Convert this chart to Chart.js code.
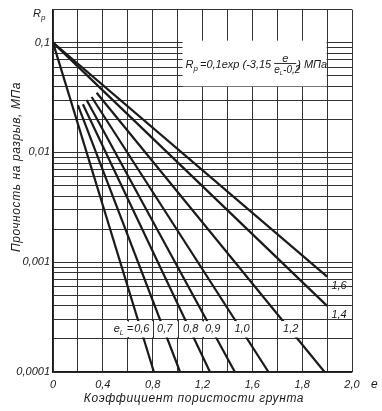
<!DOCTYPE html>
<html><head><meta charset="utf-8">
<script src="https://cdn.jsdelivr.net/npm/chart.js@4/dist/chart.umd.min.js"></script>
<style>html,body{margin:0;padding:0;background:#fff}</style>
</head><body>
<canvas id="c" width="382" height="411"></canvas>
<script>
// ---- data ----
const seriesNames = ['0,6', '0,7', '0,8', '0,9', '1,0', '1,2', '1,4', '1,6'];
const startE = [0.00, 0.20, 0.24, 0.27, 0.31, 0.35, 0.00, 0.00];
const startR = [0.1, 0.027, 0.0275, 0.030, 0.032, 0.035, 0.1, 0.1];
const endE   = [0.81, 1.02, 1.26, 1.46, 1.73, 2.18, 2.20, 2.20];
const endR   = [0.0001, 0.0001, 0.0001, 0.0001, 0.0001, 0.0001, 0.0004, 0.00074];
const bandSeries = ['0,6', '0,7', '0,8', '0,9', '1,0', '1,2'];
const sideSeries = ['1,4', '1,6'];
const xTickLabels = ['0', '0,4', '0,8', '1,2', '1,6', '1,8', '2,0'];
const yDecades = [0.0001, 0.001, 0.01, 0.1];
const yDecadeLabels = ['0,0001', '0,001', '0,01', '0,1'];
const yMinorFactors = [1, 2, 3, 4, 5, 6, 7, 8, 9];
const yTop = 0.2;
const xMax = 2.4;
const yTitle = 'Прочность на разрыв, МПа';
const xTitle = 'Коэффициент пористости грунта';

const FONT = '"Liberation Sans", Arial, sans-serif';
const INK = '#1a1a1a';

const yTicks = [];
yDecades.forEach((d, i) => {
  if (i < yDecades.length - 1) yMinorFactors.forEach(f => yTicks.push(d * f));
  else yTicks.push(d);
});
yTicks.push(yTop);

const datasets = seriesNames.map((n, i) => ({
  label: n,
  data: [{x: startE[i], y: startR[i]}, {x: endE[i], y: endR[i]}],
  borderColor: INK, borderWidth: 2.2, pointRadius: 0, fill: false, tension: 0
}));

function txt(ctx, s, x, y, size, align, base) {
  ctx.font = 'italic ' + size + 'px ' + FONT;
  ctx.textAlign = align || 'center';
  ctx.textBaseline = base || 'middle';
  ctx.fillText(s, x, y);
  return ctx.measureText(s).width;
}

const overlay = {
  id: 'overlay',
  afterDatasetsDraw(chart) {
    const ctx = chart.ctx, xs = chart.scales.x, ys = chart.scales.y;
    ctx.save();
    ctx.fillStyle = INK; ctx.strokeStyle = INK;

    // ---- label band between 0.0003 and 0.0002 ----
    const bTop = ys.getPixelForValue(0.0003), bBot = ys.getPixelForValue(0.0002);
    const bMid = (bTop + bBot) / 2;
    const bandL = xs.getPixelForValue(0.45), bandR = xs.getPixelForValue(2.0);
    ctx.fillStyle = '#fff';
    ctx.fillRect(bandL, bTop + 1.5, bandR - bandL, bBot - bTop - 3);
    ctx.strokeStyle = '#333'; ctx.lineWidth = 1;
    for (let v = 0.6; v <= 2.001; v += 0.2) {
      const px = Math.round(xs.getPixelForValue(v)) + 0.5;
      ctx.beginPath(); ctx.moveTo(px, bTop); ctx.lineTo(px, bBot); ctx.stroke();
    }
    const midLog = (Math.log10(0.0003) + Math.log10(0.0002)) / 2;
    bandSeries.forEach((name, k) => {
      const i = seriesNames.indexOf(name);
      const l0 = Math.log10(startR[i]), l1 = Math.log10(endR[i]);
      const t = (midLog - l0) / (l1 - l0);
      const e = startE[i] + t * (endE[i] - startE[i]);
      const px = xs.getPixelForValue(e) + 1;
      ctx.font = 'italic 11px ' + FONT;
      const w = ctx.measureText(name).width;
      ctx.fillStyle = '#fff';
      ctx.fillRect(px - w / 2 - 2, bTop + 2, w + 4, bBot - bTop - 4);
      ctx.fillStyle = INK;
      txt(ctx, name, px, bMid, 11);
      if (k === 0) {
        const x0 = px - w / 2 - 1;
        ctx.font = 'italic 11px ' + FONT;
        const ew = ctx.measureText('=').width;
        ctx.fillStyle = '#fff';
        ctx.fillRect(x0 - 22, bTop + 2, 22, bBot - bTop - 4);
        ctx.fillStyle = INK;
        txt(ctx, '=', x0, bMid, 11, 'right');
        txt(ctx, 'e', x0 - ew - 7, bMid, 11, 'right');
        txt(ctx, 'L', x0 - ew - 7, bMid + 4, 7, 'left');
      }
    });

    // ---- side labels for 1,4 and 1,6 ----
    sideSeries.forEach(name => {
      const i = seriesNames.indexOf(name);
      const px = xs.getPixelForValue(endE[i]);
      const py = ys.getPixelForValue(endR[i]);
      ctx.fillStyle = INK;
      txt(ctx, name, px + 12, py + 9, 11);
    });

    // ---- formula box ----
    const fx0 = xs.getPixelForValue(1.04), fx1 = xs.getPixelForValue(2.2);
    const fy0 = ys.getPixelForValue(0.1) - 2, fy1 = ys.getPixelForValue(0.04);
    ctx.fillStyle = '#fff';
    ctx.fillRect(fx0, fy0, fx1 - fx0 - 0.5, fy1 - fy0);
    ctx.fillStyle = INK;
    const fy = (fy0 + fy1) / 2 + 1;
    let x = fx0 + 3;
    x += txt(ctx, 'R', x, fy, 11, 'left');
    x += txt(ctx, 'p', x, fy + 4, 8, 'left') + 2;
    x += txt(ctx, '=0,1exp (-3,15', x, fy, 11, 'left') + 3;
    const fracW = 22;
    txt(ctx, 'e', x + fracW / 2, fy - 6, 11);
    ctx.lineWidth = 0.9; ctx.strokeStyle = INK;
    ctx.beginPath(); ctx.moveTo(x, fy - 1); ctx.lineTo(x + fracW, fy - 1); ctx.stroke();
    let x2 = x;
    x2 += txt(ctx, 'e', x2, fy + 6, 10, 'left');
    x2 += txt(ctx, 'L', x2, fy + 9, 6, 'left');
    txt(ctx, '-0,2', x2, fy + 6, 10, 'left');
    x += fracW + 1;
    txt(ctx, ') МПа', x, fy, 11, 'left');

    ctx.restore();
  },
  afterDraw(chart) {
    const ctx = chart.ctx, ca = chart.chartArea;
    ctx.save();
    ctx.fillStyle = INK;
    let x = 33;
    x += txt(ctx, 'R', x, 14, 11, 'left');
    txt(ctx, 'p', x, 18, 8, 'left');
    txt(ctx, 'e', ca.right + 19, 385, 12, 'left');
    ctx.font = 'italic 12px ' + FONT;
    ctx.letterSpacing = '0.6px';
    txt(ctx, xTitle, 194, 399, 12);
    ctx.translate(17, 167);
    ctx.rotate(-Math.PI / 2);
    txt(ctx, yTitle, 0, 0, 12);
    ctx.restore();
  }
};

new Chart(document.getElementById('c'), {
  type: 'line',
  data: { datasets },
  options: {
    responsive: false, animation: false,
    layout: { padding: { left: 0, right: 30, top: 5, bottom: 0 } },
    plugins: { legend: { display: false }, tooltip: { enabled: false } },
    scales: {
      x: {
        type: 'linear', min: 0, max: xMax,
        afterFit(s) { s.height = 39; },
        ticks: {
          stepSize: 0.2, autoSkip: false, maxRotation: 0, padding: 6,
          color: INK, font: { family: FONT, size: 11, style: 'italic' },
          callback: (v, i) => (i % 2 === 0 ? xTickLabels[i / 2] : '')
        },
        grid: { color: '#333', lineWidth: 1, drawTicks: false },
        border: { color: INK, width: 1.2 }
      },
      y: {
        type: 'logarithmic', min: yDecades[0], max: yTop,
        afterFit(s) { s.width = 53; },
        afterBuildTicks(s) { s.ticks = yTicks.map(v => ({ value: v })); },
        ticks: {
          autoSkip: false, padding: 3, color: INK,
          font: { family: FONT, size: 11, style: 'italic' },
          callback: (v) => {
            const k = yDecades.findIndex(d => Math.abs(d - v) / d < 1e-6);
            return k >= 0 ? yDecadeLabels[k] : '';
          }
        },
        grid: { color: '#333', lineWidth: 1, drawTicks: false },
        border: { color: INK, width: 1.2 }
      }
    }
  },
  plugins: [overlay]
});
</script>
</body></html>
